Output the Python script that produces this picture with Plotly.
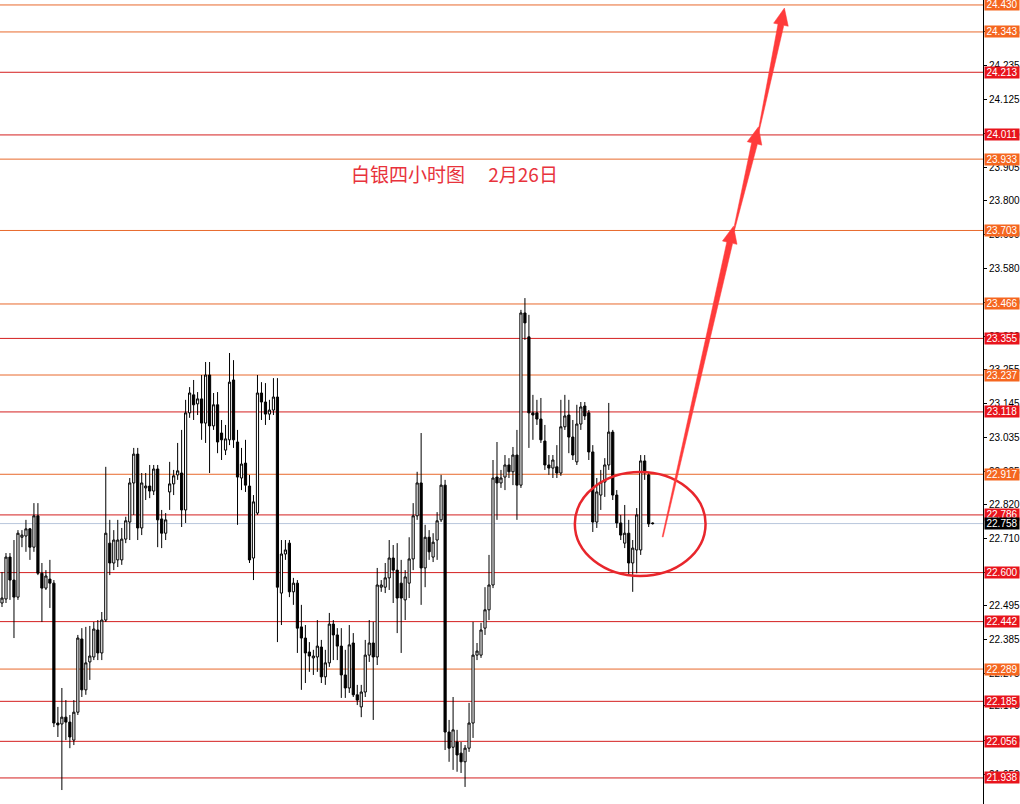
import numpy as np
import plotly.graph_objects as go

# ---------------- data ----------------
opens = [22.502,22.515,22.650,22.576,22.521,22.714,22.718,22.741,22.682,22.783,
         22.598,22.550,22.579,22.566,22.115,22.112,22.134,22.118,22.060,22.150,
         22.386,22.222,22.312,22.328,22.415,22.341,22.447,22.695,22.631,22.641,
         22.641,22.708,22.763,22.889,22.982,22.744,22.873,22.879,22.863,22.934,
         22.773,22.727,22.860,22.886,22.915,22.921,22.802,23.115,23.173,23.144,
         23.160,23.082,23.237,23.073,23.141,23.050,22.995,23.028,23.221,23.021,
         22.905,22.953,22.879,22.647,22.792,23.179,23.150,23.111,23.124,23.166,
         22.534,22.660,22.695,22.538,22.566,22.425,22.389,22.344,22.325,22.328,
         22.360,22.264,22.309,22.434,22.399,22.363,22.270,22.228,22.373,22.206,
         22.167,22.215,22.334,22.373,22.328,22.553,22.553,22.583,22.647,22.608,
         22.566,22.512,22.566,22.644,22.783,22.889,22.615,22.714,22.650,22.705,
         22.770,22.882,22.086,22.037,22.054,22.018,21.990,22.034,22.115,22.334,
         22.334,22.421,22.480,22.560,22.908,22.889,22.908,22.947,22.925,22.979,
         22.882,23.437,23.360,23.115,23.115,23.095,23.024,22.947,22.937,22.941,
         22.921,23.070,23.108,23.037,22.957,23.079,23.137,23.115,22.989,22.763,
         22.850,22.892,22.947,23.053,22.850,22.760,22.695,22.727,22.631,22.673,
         22.673,22.960,22.915,22.760]
highs = [22.602,22.663,22.663,22.705,22.737,22.737,22.770,22.744,22.824,22.824,
         22.631,22.608,22.641,22.576,22.167,22.228,22.189,22.141,22.189,22.399,
         22.421,22.425,22.428,22.441,22.447,22.473,22.941,22.770,22.737,22.770,
         22.744,22.780,22.905,23.002,23.002,22.921,22.921,22.947,22.947,22.947,
         22.802,22.792,22.957,22.931,23.018,23.060,23.157,23.198,23.221,23.182,
         23.237,23.279,23.279,23.179,23.182,23.092,23.076,23.308,23.285,23.060,
         23.002,23.028,22.915,22.850,23.237,23.214,23.211,23.157,23.227,23.227,
         22.705,22.705,22.705,22.583,22.576,22.496,22.431,22.376,22.351,22.447,
         22.383,22.351,22.470,22.447,22.421,22.421,22.351,22.431,22.405,22.238,
         22.238,22.383,22.447,22.441,22.615,22.576,22.631,22.705,22.689,22.695,
         22.641,22.608,22.714,22.824,22.925,23.050,22.754,22.737,22.727,22.795,
         22.915,22.899,22.125,22.199,22.093,22.054,22.044,22.180,22.441,22.373,
         22.438,22.553,22.657,22.963,23.021,22.931,22.979,22.969,23.005,23.060,
         23.447,23.485,23.431,23.173,23.157,23.163,23.076,22.979,22.979,23.011,
         23.157,23.173,23.157,23.092,23.141,23.150,23.150,23.124,23.011,22.905,
         22.931,22.969,23.147,23.060,22.866,22.786,22.818,22.770,22.705,22.808,
         22.979,22.979,22.925,22.762]
lows = [22.489,22.502,22.512,22.389,22.512,22.682,22.667,22.641,22.667,22.592,
        22.441,22.544,22.486,22.102,22.070,21.899,22.060,22.034,22.044,22.141,
        22.199,22.206,22.254,22.318,22.318,22.318,22.441,22.592,22.608,22.618,
        22.625,22.695,22.705,22.786,22.705,22.721,22.834,22.840,22.850,22.682,
        22.679,22.705,22.802,22.850,22.899,22.747,22.760,23.099,23.092,23.108,
        23.028,23.018,22.921,23.060,22.985,22.963,22.979,23.011,23.002,22.754,
        22.866,22.860,22.631,22.576,22.786,23.092,23.076,23.092,23.108,22.376,
        22.431,22.641,22.521,22.496,22.341,22.222,22.244,22.280,22.270,22.280,
        22.244,22.238,22.296,22.318,22.318,22.196,22.196,22.212,22.199,22.173,
        22.134,22.199,22.312,22.125,22.302,22.538,22.534,22.544,22.502,22.405,
        22.341,22.447,22.518,22.608,22.770,22.496,22.553,22.641,22.634,22.641,
        22.763,22.028,21.990,21.964,21.958,21.954,21.909,22.022,22.067,22.318,
        22.325,22.399,22.447,22.550,22.770,22.873,22.866,22.905,22.882,22.770,
        22.873,23.350,23.002,23.028,23.076,23.018,22.931,22.915,22.905,22.905,
        22.912,23.060,22.985,22.963,22.947,23.060,23.092,22.963,22.731,22.744,
        22.802,22.844,22.931,22.834,22.744,22.705,22.679,22.592,22.538,22.598,
        22.657,22.899,22.747,22.755]
closes = [22.518,22.650,22.576,22.521,22.727,22.721,22.741,22.682,22.783,22.598,
          22.550,22.589,22.566,22.115,22.109,22.134,22.118,22.070,22.150,22.389,
          22.222,22.309,22.331,22.418,22.341,22.447,22.727,22.631,22.705,22.705,
          22.708,22.767,22.889,22.982,22.744,22.889,22.879,22.863,22.934,22.770,
          22.727,22.770,22.886,22.912,22.928,22.802,23.115,23.179,23.141,23.160,
          23.082,23.237,23.073,23.141,23.021,23.028,23.031,23.214,23.028,22.908,
          22.950,22.882,22.641,22.828,23.179,23.150,23.111,23.124,23.166,22.553,
          22.660,22.673,22.538,22.566,22.421,22.389,22.341,22.331,22.331,22.363,
          22.264,22.309,22.434,22.399,22.363,22.270,22.228,22.367,22.206,22.189,
          22.215,22.334,22.373,22.328,22.560,22.560,22.583,22.647,22.608,22.518,
          22.518,22.586,22.644,22.783,22.889,22.615,22.714,22.667,22.698,22.767,
          22.882,22.086,22.034,22.093,22.012,21.990,22.034,22.115,22.334,22.347,
          22.415,22.480,22.560,22.905,22.889,22.905,22.947,22.925,22.979,22.882,
          23.437,23.405,23.115,23.108,23.095,23.028,22.947,22.937,22.963,22.921,
          23.070,23.105,23.037,22.979,23.079,23.134,23.105,22.989,22.763,22.860,
          22.892,22.947,23.053,22.850,22.760,22.721,22.727,22.631,22.679,22.786,
          22.960,22.921,22.757,22.758]

levels = [24.430, 24.343, 24.213, 24.011, 23.933, 23.703, 23.466, 23.355, 23.237,
          23.118, 22.917, 22.786, 22.600, 22.442, 22.289, 22.185, 22.056, 21.938]
level_kind = ["o", "o", "r", "r", "o", "o", "o", "r", "o",
              "r", "o", "r", "r", "r", "o", "r", "r", "r"]
current_price = 22.758

tick_vals = [24.345, 24.235, 24.125, 24.015, 23.905, 23.800, 23.690, 23.580, 23.470,
             23.360, 23.255, 23.145, 23.035, 22.925, 22.820, 22.710, 22.600, 22.495,
             22.385, 22.275, 22.170, 22.060, 21.950]
tick_text = ["%.3f" % v for v in tick_vals]

title_text = "白银四小时图\u3000 2月26日"

# arrows drawn on the chart: (x index, price) tail -> tip
arrows = [((165.5, 22.715), (183.25, 23.717)),
          ((183.25, 23.698), (189.5, 24.037)),
          ((189.5, 24.020), (196.0, 24.420))]
circle_box = (143.5, 176.25, 22.589, 22.924)

# ---------------- layout constants ----------------
W, H = 1020, 804
MR = 35
PW, PH = W - MR, H
XR = [-0.5, -0.5 + PW / 4.0]
YR = [21.854, 24.446]

LINE_COL = {"o": "#E8692C", "r": "#D41F1F"}
BOX_COL = {"o": "#F5661F", "r": "#E8141C"}
ARROW_COL = "#FF3B3B"

x = list(range(len(opens)))

fig = go.Figure()
fig.add_trace(go.Candlestick(
    x=x, open=opens, high=highs, low=lows, close=closes,
    increasing=dict(line=dict(color="black", width=1), fillcolor="white"),
    decreasing=dict(line=dict(color="black", width=1), fillcolor="black"),
    whiskerwidth=0, hoverinfo="skip", showlegend=False,
))

shapes = []
annotations = []
for lv, k in zip(levels, level_kind):
    shapes.append(dict(type="line", xref="paper", x0=0, x1=1, yref="y", y0=lv, y1=lv,
                       line=dict(color=LINE_COL[k], width=1), layer="below"))
    annotations.append(dict(xref="paper", x=1, xanchor="left", xshift=1, yref="y", y=lv,
                            yanchor="middle", text="%.3f" % lv, showarrow=False,
                            bgcolor=BOX_COL[k], font=dict(color="white", size=10,
                                                           family="Liberation Sans"),
                            width=34, height=11, borderpad=0, align="center"))
shapes.append(dict(type="line", xref="paper", x0=0, x1=1, yref="y", y0=current_price,
                   y1=current_price, line=dict(color="#B8C6DC", width=1), layer="below"))
annotations.append(dict(xref="paper", x=1, xanchor="left", xshift=1, yref="y", y=current_price,
                        yanchor="middle", text="%.3f" % current_price, showarrow=False,
                        bgcolor="black", font=dict(color="white", size=10, family="Liberation Sans"),
                        width=34, height=11, borderpad=0, align="center"))

# circle
cx0, cx1, cy0, cy1 = circle_box
shapes.append(dict(type="circle", xref="x", yref="y", x0=cx0, x1=cx1, y0=cy0, y1=cy1,
                   line=dict(color="#E8262C", width=2.5)))


# tapered arrows (computed in pixel space, placed in paper coords)
def to_px(xv, yv):
    px = (xv - XR[0]) / (XR[1] - XR[0]) * PW
    py = (YR[1] - yv) / (YR[1] - YR[0]) * PH
    return np.array([px, py])


def to_paper(p):
    return p[0] / PW, 1 - p[1] / PH


for (t, h) in arrows:
    A = to_px(*t)
    B = to_px(*h)
    d = B - A
    L = np.hypot(*d)
    u = d / L
    n = np.array([-u[1], u[0]])
    head_len, head_half, neck_half, tail_half = 17.0, 7.5, 3.0, 0.5
    N = B - u * head_len
    pts = [A + n * tail_half, N + n * neck_half, N + n * head_half, B,
           N - n * head_half, N - n * neck_half, A - n * tail_half]
    pp = [to_paper(p) for p in pts]
    path = "M " + " L ".join("%.5f,%.5f" % q for q in pp) + " Z"
    shapes.append(dict(type="path", xref="paper", yref="paper", path=path,
                       fillcolor=ARROW_COL, line=dict(color=ARROW_COL, width=0.5)))

annotations.append(dict(xref="x", yref="y", x=113.25, y=23.888, text=title_text,
                        showarrow=False, font=dict(color="#E8333C", size=19,
                                                   family="Noto Sans CJK SC")))

fig.update_layout(
    width=W, height=H,
    margin=dict(l=0, r=MR, t=0, b=0),
    paper_bgcolor="white", plot_bgcolor="white",
    shapes=shapes, annotations=annotations,
    showlegend=False,
    boxgap=0.22,
    xaxis=dict(range=XR, visible=False, rangeslider=dict(visible=False), fixedrange=True),
    yaxis=dict(range=YR, side="right", showgrid=False, zeroline=False,
               showline=True, linecolor="black", linewidth=1,
               ticks="outside", ticklen=3, tickcolor="black",
               tickvals=tick_vals, ticktext=tick_text,
               tickfont=dict(family="Liberation Sans", size=10, color="black")),
)

fig.write_html("out.html", config={"displayModeBar": False},
               post_script="document.body.style.margin='0';document.body.style.overflow='hidden';")
